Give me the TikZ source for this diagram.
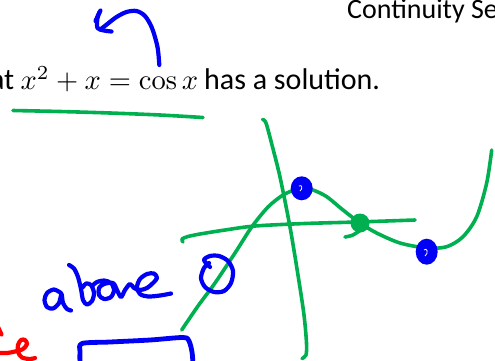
\documentclass[tikz,border=0pt]{standalone}
\usepackage[no-math]{fontspec}
\usepackage{graphicx}
\setmainfont{Carlito}
\definecolor{ink green}{RGB}{0,176,80}
\definecolor{ink blue}{RGB}{0,0,245}
\definecolor{ink red}{RGB}{255,0,0}
\begin{document}
\begin{tikzpicture}[x=1pt,y=-1pt,
  greenpen/.style={draw=ink green,line width=3.6pt,line cap=round,line join=round},
  bluepen/.style={draw=ink blue,line width=4.2pt,line cap=round,line join=round},
  redpen/.style={draw=ink red,line width=4.2pt,line cap=round,line join=round},
  titletext/.style={inner sep=0pt,font=\fontsize{28}{34}\selectfont},
  bodytext/.style={inner sep=0pt,font=\fontsize{30}{36}\selectfont}]
\useasboundingbox (0,0) rectangle (495,360);
\fill[white] (0,0) rectangle (495,360);

% texts
\node[titletext,anchor=base west] (title) at (347,18) {Continuity Se};
\node[bodytext,anchor=base east] (that) at (14.5,89.5) {that};
\node[inner sep=0pt,anchor=base west] (eq) at (20.5,89.5) {\scalebox{2.85}{$x^2+x=\cos x$}};
\node[bodytext,anchor=base west] (sol) at (204,89.5) {has a solution.};

% green underline
\draw[greenpen] plot[smooth] coordinates {(13,110.5) (60,111.5) (110,113) (160,115) (203,117.5)};

% blue arrow
\draw[bluepen] plot[smooth] coordinates {(159.3,65) (157.5,47) (152,28) (145,16) (136.5,11) (126.5,12) (116.5,17) (108,23.5) (101,29)};
\draw[bluepen] plot[smooth] coordinates {(100.5,10.5) (97.5,18) (97.5,28) (104,30.5) (111.5,31.5)};
\draw[bluepen] (99.5,12) -- (95.5,21);

% axes
\draw[greenpen] plot[smooth] coordinates {(262.5,119.5) (266,123) (272,145) (280,177) (290,227) (298.3,277) (304,315) (306.5,343) (306,355) (302,358.5)};
\draw[greenpen] plot[smooth] coordinates {(183,242) (182,239) (188,236.5) (200,234) (225,230) (255,226) (305,223.5) (357,222) (415,220)};

% curve
\draw[greenpen] plot[smooth] coordinates {(181.7,330) (198,306) (215,283) (235,253) (251.7,227) (268,207) (283,195) (296.7,189) (302,188) (313,190) (326.7,196.7) (343,210) (360,223) (376.7,233) (400,243) (426.7,248) (446.7,246.7) (463,236.7) (476.7,216.7) (486.7,183) (491.7,150)};

% green dot
\fill[ink green] (360,223) circle[radius=9.5pt];
\draw[greenpen] plot[smooth] coordinates {(345,237) (353,235) (362,229)};

% blue dots
\fill[ink blue] (301.7,188.3) ellipse[x radius=11pt,y radius=12pt];
\draw[white,line width=0.8pt] (299,186) .. controls (302,184) and (303,189) .. (300,191);
\fill[ink blue] (426.7,251.7) ellipse[x radius=11pt,y radius=13pt];
\draw[white,line width=0.8pt] (424,250) .. controls (427,247) and (429,253) .. (425,256);

% blue circle
\draw[bluepen] plot[smooth] coordinates {(210,267) (204,260) (210,256) (219,256) (228,261) (233,271) (231,283) (224,291) (214,292) (205,287) (201,278) (204,268) (209,263)};

% above
\draw[bluepen] plot[smooth] coordinates {(61,293) (54,289.5) (47,293) (44.5,300) (47,307) (53,308.5) (59,303) (61.5,294) (63,303) (67,309) (71,310.5)};
\draw[bluepen] plot[smooth] coordinates {(69,265) (74,268.5) (78,277) (81,289) (83,300) (87,304.5) (92,301) (94,293) (91,285) (86,283.5) (83,287)};
\draw[bluepen] plot[smooth] coordinates {(92,286) (97,282) (104,280.5) (111,283) (114,290) (111,297) (104,299) (99,295) (99,288) (104,284) (113,283) (117,290) (121,297) (125,290) (130,284) (134,288) (140,290) (147,288) (153,283) (157,278) (154,273.5) (147,274) (140,279) (137,287) (140,294) (148,296.5) (160,295.5) (171,293.5)};

% blue bracket
\draw[bluepen,line width=4.8pt] plot[smooth] coordinates {(80,364) (80,352) (82,343.5) (110,342) (150,340) (183,337.5) (189,341) (192,352) (193,364)};

% red scribble
\draw[redpen] (-2,327) -- (1.5,334.5);
\draw[redpen] plot[smooth] coordinates {(-3,353) (7,353) (15,351.5) (23,349) (27,344) (25,340) (21,340) (18,345) (18,352) (22,357.5) (30,359) (35,358)};
\end{tikzpicture}
\end{document}
